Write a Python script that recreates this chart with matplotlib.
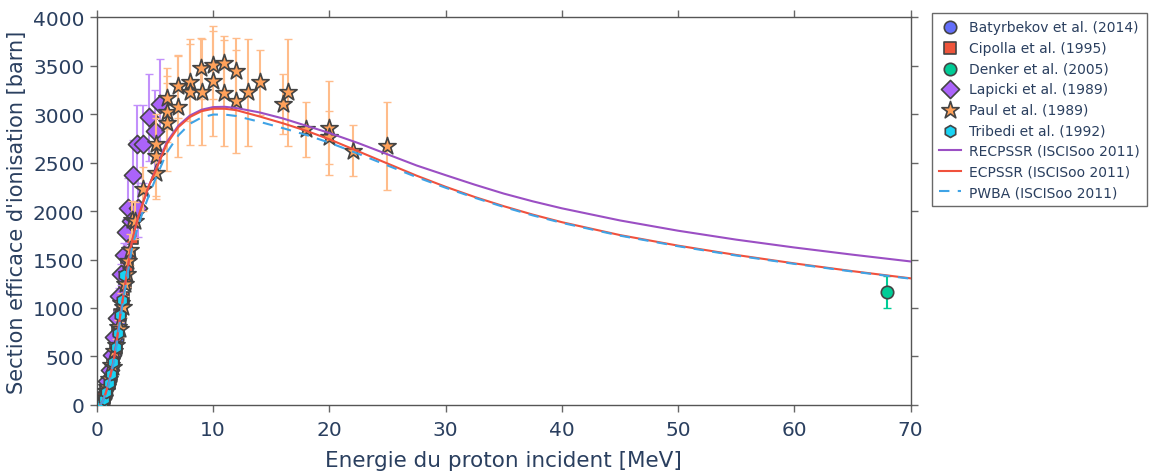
import matplotlib
matplotlib.use('Agg')
import matplotlib.pyplot as plt
import numpy as np

plt.rcParams['font.family'] = ['DejaVu Sans']
txt = '#2a3f5f'

# experimental data: energy (MeV), cross section (barn), relative error
bat_e = [0.5, 0.7, 0.9, 1.1, 1.3, 1.5, 1.7, 1.9]
bat_s = [45, 95, 170, 260, 380, 520, 680, 850]

cip_e = [0.6, 0.8, 1.0, 1.2, 1.4, 1.6, 1.8, 2.0, 2.2, 2.4, 2.6, 2.8, 3.0]
cip_s = [70, 140, 230, 320, 450, 590, 760, 930, 1100, 1260, 1420, 1560, 1720]

den_e = [68.0]
den_s = [1160]
den_err = [165]

lap_e = [0.9, 1.1, 1.3, 1.5, 1.7, 1.9, 2.1, 2.3, 2.5, 2.69, 2.9, 3.12, 3.41, 3.55, 3.98, 4.5, 4.99, 5.42]
lap_s = [250, 360, 520, 700, 900, 1120, 1350, 1550, 1780, 2036, 1900, 2374, 2691, 2036, 2691, 2966, 2828, 3103]
lap_rel = [0.08, 0.08, 0.08, 0.08, 0.08, 0.08, 0.08, 0.08, 0.08, 0.15, 0.08, 0.15, 0.15, 0.15, 0.15, 0.15, 0.15, 0.15]

paul_e = [0.45, 0.6, 0.75, 0.9, 1.05, 1.2, 1.35, 1.5, 1.65, 1.8, 1.95, 2.1, 2.25, 2.4, 2.55, 2.7,
          2.85, 2.98, 3.3, 3.98, 5.05, 5.05, 5.05, 5.99, 5.99, 5.99, 6.99, 6.99, 8.0, 8.0,
          8.94, 9.0, 10.0, 10.0, 10.95, 10.95, 12.0, 12.0, 13.0, 14.0, 16.0, 16.45,
          18.0, 20.0, 20.0, 22.0, 25.0]
paul_s = [30, 75, 140, 190, 270, 412, 390, 560, 620, 800, 780, 1050, 1010, 1250, 1350, 1480,
          1600, 1911, 1900, 2227, 2691, 2563, 2392, 3162, 3017, 2904, 3285, 3076, 3327, 3230,
          3471, 3230, 3508, 3337, 3522, 3216, 3440, 3131, 3223, 3327, 3103, 3223,
          2845, 2852, 2760, 2622, 2673]
paul_rel = [0.1, 0.1, 0.1, 0.1, 0.1, 0.1, 0.1, 0.1, 0.1, 0.1, 0.1, 0.1, 0.1, 0.1, 0.1, 0.1,
            0.1, 0.1, 0.1, 0.1, 0.1, 0.17, 0.1, 0.1, 0.1, 0.17, 0.1, 0.17, 0.12, 0.17,
            0.09, 0.17, 0.1, 0.17, 0.08, 0.17, 0.1, 0.17, 0.17, 0.1, 0.1, 0.17,
            0.1, 0.17, 0.1, 0.1, 0.17]

tri_e = [0.4, 0.6, 0.8, 1.0, 1.2, 1.4, 1.6, 1.8, 2.0, 2.15, 2.3]
tri_s = [15, 60, 130, 230, 320, 440, 600, 740, 930, 1080, 1340]

# theory curves (ISCISoo 2011)
th_e = [0.3, 0.5, 0.75, 1.0, 1.25, 1.5, 1.75, 2.0, 2.25, 2.5, 2.75, 3.0, 3.5, 4.0, 4.5, 5.0,
        6.0, 7.0, 8.0, 9.0, 10.0, 11.0, 12.0, 14.0, 16.0, 18.0, 20.0, 22.5, 25.0, 27.5,
        30.0, 32.5, 35.0, 37.5, 40.0, 45.0, 50.0, 55.0, 60.0, 65.0, 70.0]
recpssr = [5, 40, 120, 220, 350, 500, 700, 920, 1110, 1300, 1490, 1680, 1920, 2100, 2270, 2410,
           2710, 2880, 2985, 3045, 3072, 3075, 3062, 3017, 2955, 2880, 2805, 2700, 2585, 2470,
           2370, 2272, 2180, 2100, 2028, 1903, 1797, 1705, 1624, 1550, 1480]
ecpssr = [5, 40, 120, 220, 350, 500, 700, 920, 1110, 1300, 1490, 1680, 1920, 2100, 2270, 2400,
          2690, 2865, 2970, 3030, 3055, 3055, 3040, 2975, 2905, 2828, 2740, 2615, 2490, 2365,
          2250, 2145, 2050, 1963, 1885, 1752, 1643, 1547, 1460, 1380, 1306]
pwba = [4, 35, 110, 205, 330, 475, 665, 880, 1070, 1250, 1430, 1610, 1830, 2010, 2170, 2320,
        2600, 2780, 2900, 2965, 2995, 2995, 2980, 2920, 2855, 2785, 2705, 2590, 2470, 2350,
        2240, 2137, 2042, 1955, 1878, 1746, 1637, 1541, 1455, 1376, 1302]

fig = plt.figure(figsize=(11.54, 4.77), dpi=100)
ax = fig.add_axes([0.084, 0.149, 0.705, 0.813])

edge = '#444444'
lw = 1.2
ax.scatter(bat_e, bat_s, s=80, marker='o', color='#636efa', edgecolors=edge, linewidths=lw,
           zorder=3, label='Batyrbekov et al. (2014)')
ax.scatter(cip_e, cip_s, s=70, marker='s', color='#EF553B', edgecolors=edge, linewidths=lw,
           zorder=3, label='Cipolla et al. (1995)')
ax.errorbar(den_e, den_s, yerr=den_err, fmt='none', ecolor='#00cc96', elinewidth=1.5,
            capsize=3, zorder=3)
ax.scatter(den_e, den_s, s=80, marker='o', color='#00cc96', edgecolors=edge, linewidths=lw,
           zorder=3, label='Denker et al. (2005)')
ax.errorbar(lap_e, lap_s, yerr=np.array(lap_s) * np.array(lap_rel), fmt='none',
            ecolor='#c290fb', elinewidth=1.5, capsize=3, zorder=3)
ax.scatter(lap_e, lap_s, s=85, marker='D', color='#ab63fa', edgecolors=edge, linewidths=lw,
           zorder=3, label='Lapicki et al. (1989)')
ax.errorbar(paul_e, paul_s, yerr=np.array(paul_s) * np.array(paul_rel), fmt='none',
            ecolor='#ffbc8a', elinewidth=1.5, capsize=3, zorder=4)
ax.scatter(paul_e, paul_s, s=170, marker='*', color='#FFA15A', edgecolors=edge, linewidths=lw,
           zorder=4, label='Paul et al. (1989)')
ax.scatter(tri_e, tri_s, s=75, marker='h', color='#19d3f3', edgecolors=edge, linewidths=lw,
           zorder=5, label='Tribedi et al. (1992)')

ax.plot(th_e, recpssr, color='#9b4fc4', lw=1.5, zorder=6, label='RECPSSR (ISCISoo 2011)')
ax.plot(th_e, ecpssr, color='#f0513d', lw=1.5, zorder=6, label='ECPSSR (ISCISoo 2011)')
ax.plot(th_e, pwba, color='#3fa3e6', lw=1.5, ls=(0, (5, 4)), zorder=6,
        label='PWBA (ISCISoo 2011)')

ax.set_xlim(0, 70)
ax.set_ylim(0, 4000)
ax.set_xticks(np.arange(0, 71, 10))
ax.set_yticks(np.arange(0, 4001, 500))
ax.tick_params(direction='out', length=5, width=1, color='#666666', labelsize=14.5,
               labelcolor=txt, top=True, right=True, pad=4)
ax.tick_params(axis='x', pad=6)
for sp in ax.spines.values():
    sp.set_color('#555555')
    sp.set_linewidth(1)
ax.set_xlabel('Energie du proton incident [MeV]', fontsize=15.5, color=txt, labelpad=8)
ax.set_ylabel("Section efficace d'ionisation [barn]", fontsize=15, color=txt, labelpad=4)

leg = fig.legend(*ax.get_legend_handles_labels(), loc='upper left',
                 bbox_to_anchor=(925 / 1154, 1 - 7 / 477), fontsize=10, frameon=True,
                 fancybox=False, edgecolor='#444444', handlelength=1.6, handletextpad=0.6,
                 borderpad=0.5, labelspacing=0.48, scatterpoints=1)
leg.get_frame().set_linewidth(1)
for t in leg.get_texts():
    t.set_color(txt)

fig.savefig('out.png', dpi=100)
